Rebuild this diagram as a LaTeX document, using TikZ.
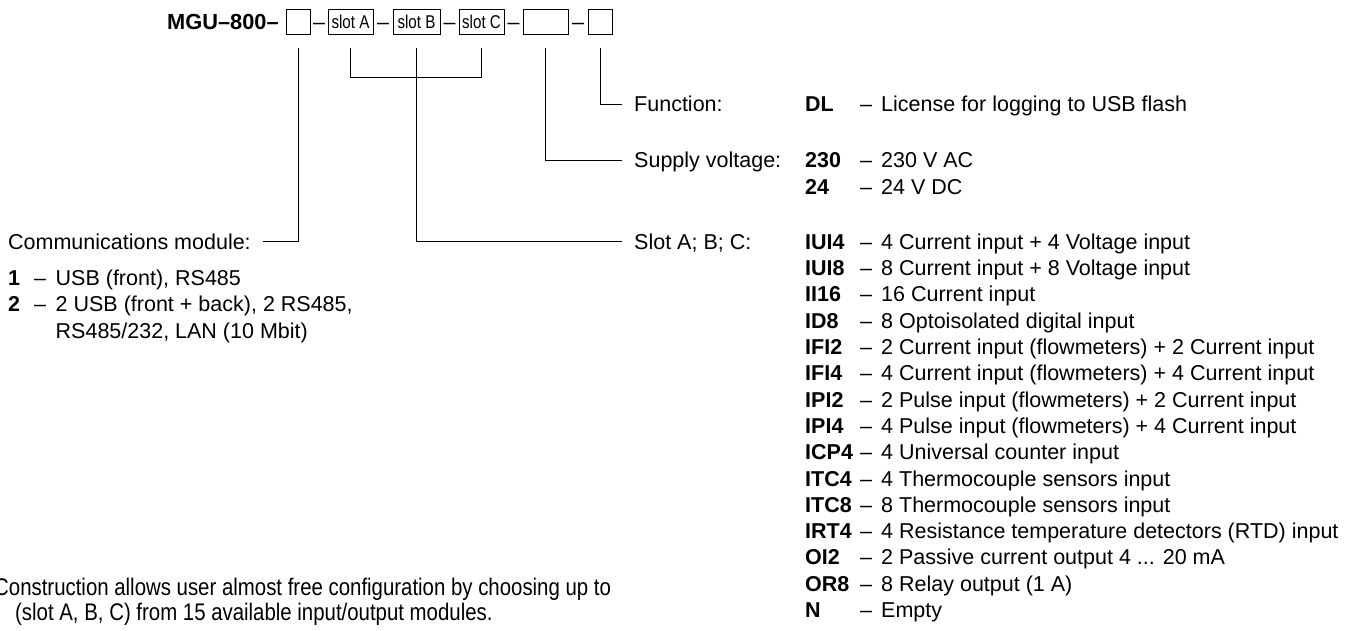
\documentclass[tikz,border=0pt]{standalone}
\usepackage{fontspec}
\setmainfont{Liberation Sans}
\newfontfamily\boxfam[FakeStretch=0.82]{Liberation Sans}
\newfontfamily\notefam[FakeStretch=0.85]{Liberation Sans}
\newcommand{\mainsz}{\fontsize{21.5}{26.3}\selectfont}
\newcommand{\boxsz}{\boxfam\fontsize{18.5}{18.5}\selectfont}
\newcommand{\notesz}{\notefam\fontsize{24}{25}\selectfont}
\newcommand{\threedots}{...}
\begin{document}
\begin{tikzpicture}[x=1pt,y=-1pt,
  txt/.style={anchor=base west, inner sep=0pt, font=\mainsz},
  cd/.style={anchor=base west, inner sep=0pt, font=\mainsz\bfseries},
  dsh/.style={anchor=base, inner sep=0pt, font=\mainsz},
  note/.style={anchor=base west, inner sep=0pt, font=\notesz},
  bx/.style={draw, line width=0.9pt, minimum height=25pt, inner sep=0pt, font=\boxsz},
  ln/.style={line width=1pt}]
\useasboundingbox (0,0) rectangle (1354,630);
\fill[white] (0,0) rectangle (1354,630);

% header
\node[cd, font=\fontsize{21.8}{26}\selectfont\bfseries] (mgu) at (167,29.3) {MGU–800–};
\node[bx, minimum width=24pt] (b1) at (298,21.5) {};
\node[bx, minimum width=45pt] (bA) at (350.5,21.5) {slot A};
\node[bx, minimum width=47pt] (bB) at (416.5,21.5) {slot B};
\node[bx, minimum width=45pt] (bC) at (481.5,21.5) {slot C};
\node[bx, minimum width=45pt] (b5) at (545.5,21.5) {};
\node[bx, minimum width=24pt] (b6) at (600,21.5) {};
\node[dsh] (h1) at (319,29.3) {–};
\node[dsh] (h2) at (383,29.3) {–};
\node[dsh] (h3) at (449.5,29.3) {–};
\node[dsh] (h4) at (513.5,29.3) {–};
\node[dsh] (h5) at (578,29.3) {–};

% right labels
\node[txt] (lf) at (634,111.8) {Function:};
\node[txt] (ls) at (634,167.8) {Supply voltage:};
\node[txt] (ll) at (634,249.3) {Slot A; B; C:};
\coordinate (ef) at (622,104);
\coordinate (es) at (622,160);
\coordinate (el) at (622,241.5);

\node[cd] (kDL) at (805,111.8) {DL};
\node[txt] (dDL) at (860,111.8) {–};
\node[txt] (tDL) at (881,111.8) {License for logging to USB flash};
\node[cd] (k230) at (805,167.8) {230};
\node[txt] (d230) at (860,167.8) {–};
\node[txt] (t230) at (881,167.8) {230 V AC};
\node[cd] (k24) at (805,194.1) {24};
\node[txt] (d24) at (860,194.1) {–};
\node[txt] (t24) at (881,194.1) {24 V DC};

\foreach \c/\d [count=\i from 0] in {
  IUI4/4 Current input + 4 Voltage input,
  IUI8/8 Current input + 8 Voltage input,
  II16/16 Current input,
  ID8/8 Optoisolated digital input,
  IFI2/2 Current input (flowmeters) + 2 Current input,
  IFI4/4 Current input (flowmeters) + 4 Current input,
  IPI2/2 Pulse input (flowmeters) + 2 Current input,
  IPI4/4 Pulse input (flowmeters) + 4 Current input,
  ICP4/4 Universal counter input,
  ITC4/4 Thermocouple sensors input,
  ITC8/8 Thermocouple sensors input,
  IRT4/4 Resistance temperature detectors (RTD) input,
  OI2/2 Passive current output 4 \threedots{} 20 mA,
  OR8/8 Relay output (1 A),
  N/Empty}{
  \pgfmathsetmacro{\yy}{249.3+26.3*\i}
  \node[cd] (k\i) at (805,\yy) {\c};
  \node[txt] (d\i) at (860,\yy) {–};
  \node[txt] (t\i) at (881,\yy) {\d};
}

% left block
\node[txt] (comm) at (8,249.3) {Communications module:};
\coordinate (ec) at (263,241.5);
\node[cd] (n1) at (8,285.3) {1};
\node[txt] (m1) at (34,285.3) {–};
\node[txt] (o1) at (55.5,285.3) {USB (front), RS485};
\node[cd] (n2) at (8,311.8) {2};
\node[txt] (m2) at (34,311.8) {–};
\node[txt] (o2) at (55.5,311.8) {2 USB (front + back), 2 RS485,};
\node[txt] (o3) at (55.5,338.3) {RS485/232, LAN (10 Mbit)};

% bottom note
\node[note] (note1) at (-6,595.6) {Construction allows user almost free configuration by choosing up to};
\node[note] (note2) at (15,620.6) {(slot A, B, C) from 15 available input/output modules.};

% connectors
\draw[ln] ([yshift=-14pt]b1.south) |- (ec);
\draw[ln] ([yshift=-14pt]bA.south) |- ([yshift=-43pt]bC.south) -- ([yshift=-14pt]bC.south);
\draw[ln] ([yshift=-14pt]bB.south) |- (el);
\draw[ln] ([yshift=-14pt]b5.south) |- (es);
\draw[ln] ([yshift=-14pt]b6.south) |- (ef);
\end{tikzpicture}
\end{document}
